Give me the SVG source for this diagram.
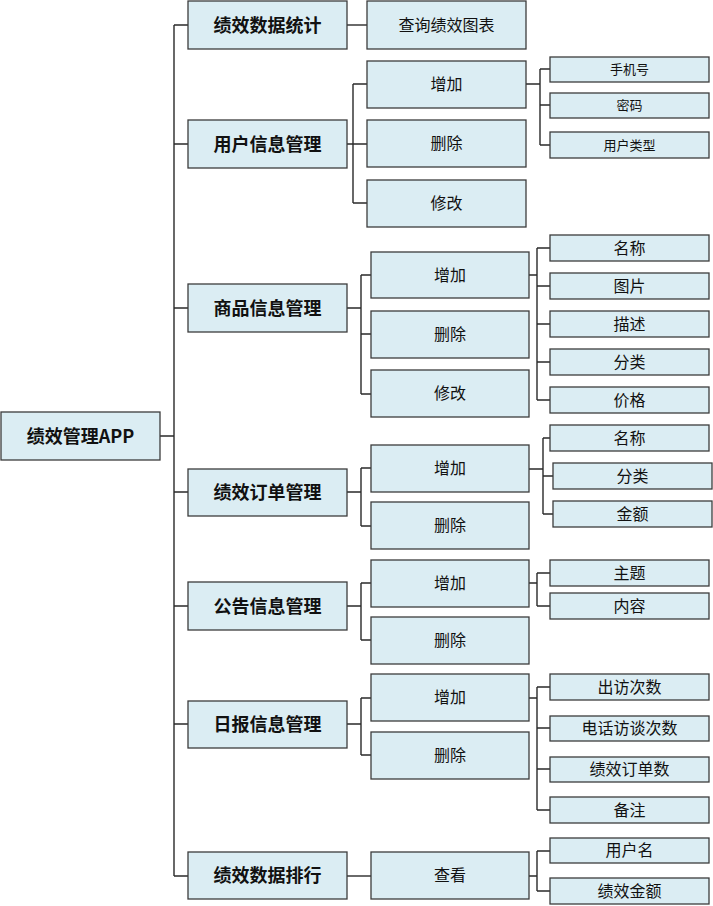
<svg xmlns="http://www.w3.org/2000/svg" width="713" height="906" viewBox="0 0 713 906">
<style>
.bx{fill:#DBEDF3;stroke:#3c3c3c;stroke-width:1.3}
.sh{fill:none;stroke:#8a8a8a;stroke-width:1.2}
.t{font-family:"Noto Sans CJK SC",sans-serif;fill:#111;text-anchor:middle;dominant-baseline:central}
.b{font-weight:bold;font-size:18px}
.m{font-size:16px}
.s{font-size:13px}
.c{fill:none;stroke:#2a2a2a;stroke-width:1.4}
</style>
<rect width="713" height="906" fill="#fff"/>
<g id="connectors" class="c">
<path d="M160 436H174M174 25V876M174 25H188M174 144H188M174 308H188M174 492H188M174 606H188M174 724H188M174 876H188"/>
<path d="M347 25H367"/>
<path d="M347 144H353M353 84V203M353 84H367M353 144H367M353 203H367"/>
<path d="M526 84H540M540 69V145M540 69H550M540 105H550M540 145H550"/>
<path d="M347 308H361M361 275V394M361 275H371M361 334H371M361 394H371"/>
<path d="M529 275H537M537 248V400M537 248H550M537 286H550M537 324H550M537 362H550M537 400H550"/>
<path d="M347 492H361M361 468V526M361 468H371M361 526H371"/>
<path d="M529 469H543M543 438V514M543 438H550M543 476H553M543 514H553"/>
<path d="M347 606H361M361 583V640M361 583H371M361 640H371"/>
<path d="M529 583H537M537 573V606M537 573H550M537 606H550"/>
<path d="M347 724H361M361 698V755M361 698H371M361 755H371"/>
<path d="M529 698H537M537 687V810M537 687H550M537 728H550M537 769H550M537 810H550"/>
<path d="M347 876H371"/>
<path d="M529 876H537M537 851V891M537 851H550M537 891H550"/>
</g>
<g id="root"><rect class="bx" x="1" y="412" width="159" height="48"/><text class="t b" x="80.5" y="435">绩效管理APP</text></g>
<g id="n1"><rect class="bx" x="188" y="1" width="159" height="48"/><text class="t b" x="267.5" y="24">绩效数据统计</text></g>
<g id="n2"><rect class="bx" x="188" y="120" width="159" height="48"/><text class="t b" x="267.5" y="143">用户信息管理</text></g>
<g id="n3"><rect class="bx" x="188" y="284" width="159" height="48"/><text class="t b" x="267.5" y="307">商品信息管理</text></g>
<g id="n4"><rect class="bx" x="188" y="469" width="159" height="47"/><text class="t b" x="267.5" y="491">绩效订单管理</text></g>
<g id="n5"><rect class="bx" x="188" y="582" width="159" height="48"/><text class="t b" x="267.5" y="605">公告信息管理</text></g>
<g id="n6"><rect class="bx" x="188" y="701" width="159" height="47"/><text class="t b" x="267.5" y="723">日报信息管理</text></g>
<g id="n7"><rect class="bx" x="188" y="852" width="159" height="47"/><text class="t b" x="267.5" y="874">绩效数据排行</text></g>
<g id="a1"><rect class="bx" x="367" y="1" width="159" height="48"/><text class="t m" x="446.5" y="24">查询绩效图表</text></g>
<g id="b1"><rect class="bx" x="367" y="61" width="159" height="47"/><text class="t m" x="446.5" y="83">增加</text></g>
<g id="b2"><rect class="bx" x="367" y="120" width="159" height="47"/><text class="t m" x="446.5" y="142">删除</text></g>
<g id="b3"><rect class="bx" x="367" y="180" width="159" height="47"/><text class="t m" x="446.5" y="202">修改</text></g>
<g id="b1a"><rect class="bx" x="550" y="57" width="159" height="25"/><text class="t s" x="629.5" y="68.5">手机号</text></g>
<g id="b1b"><rect class="bx" x="550" y="93" width="159" height="25"/><text class="t s" x="629.5" y="104.5">密码</text></g>
<g id="b1c"><rect class="bx" x="550" y="132" width="159" height="26"/><text class="t s" x="629.5" y="144">用户类型</text></g>
<g id="c1"><rect class="bx" x="371" y="252" width="158" height="46"/><text class="t m" x="450" y="274">增加</text></g>
<g id="c2"><rect class="bx" x="371" y="311" width="158" height="47"/><text class="t m" x="450" y="333">删除</text></g>
<g id="c3"><rect class="bx" x="371" y="370" width="158" height="47"/><text class="t m" x="450" y="392">修改</text></g>
<g id="c1a"><rect class="bx" x="550" y="235" width="159" height="26"/><text class="t m" x="629.5" y="246.5">名称</text></g>
<g id="c1b"><rect class="bx" x="550" y="273" width="159" height="26"/><text class="t m" x="629.5" y="284.5">图片</text></g>
<g id="c1c"><rect class="bx" x="550" y="311" width="159" height="26"/><text class="t m" x="629.5" y="322.5">描述</text></g>
<g id="c1d"><rect class="bx" x="550" y="349" width="159" height="26"/><text class="t m" x="629.5" y="360.5">分类</text></g>
<g id="c1e"><rect class="bx" x="550" y="387" width="159" height="26"/><text class="t m" x="629.5" y="398.5">价格</text></g>
<g id="d1"><rect class="bx" x="371" y="445" width="158" height="47"/><text class="t m" x="450" y="467">增加</text></g>
<g id="d2"><rect class="bx" x="371" y="502" width="158" height="47"/><text class="t m" x="450" y="524">删除</text></g>
<g id="d1a"><rect class="bx" x="550" y="425" width="159" height="26"/><text class="t m" x="629.5" y="436.5">名称</text></g>
<g id="d1b"><rect class="bx" x="553" y="463" width="159" height="26"/><text class="t m" x="632.5" y="474.5">分类</text></g>
<g id="d1c"><rect class="bx" x="553" y="501" width="159" height="26"/><text class="t m" x="632.5" y="512.5">金额</text></g>
<g id="e1"><rect class="bx" x="371" y="560" width="158" height="47"/><text class="t m" x="450" y="582">增加</text></g>
<g id="e2"><rect class="bx" x="371" y="617" width="158" height="47"/><text class="t m" x="450" y="639">删除</text></g>
<g id="e1a"><rect class="bx" x="550" y="560" width="159" height="26"/><text class="t m" x="629.5" y="571.5">主题</text></g>
<g id="e1b"><rect class="bx" x="550" y="593" width="159" height="26"/><text class="t m" x="629.5" y="604.5">内容</text></g>
<g id="f1"><rect class="bx" x="371" y="674" width="158" height="47"/><text class="t m" x="450" y="696">增加</text></g>
<g id="f2"><rect class="bx" x="371" y="732" width="158" height="47"/><text class="t m" x="450" y="754">删除</text></g>
<g id="f1a"><rect class="bx" x="550" y="674" width="159" height="26"/><text class="t m" x="629.5" y="685.5">出访次数</text></g>
<g id="f1b"><rect class="bx" x="550" y="716" width="159" height="25"/><text class="t m" x="629.5" y="727">电话访谈次数</text></g>
<g id="f1c"><rect class="bx" x="550" y="757" width="159" height="25"/><text class="t m" x="629.5" y="768">绩效订单数</text></g>
<g id="f1d"><rect class="bx" x="550" y="797" width="159" height="26"/><text class="t m" x="629.5" y="808.5">备注</text></g>
<g id="g1"><rect class="bx" x="371" y="852" width="158" height="47"/><text class="t m" x="450" y="874">查看</text></g>
<g id="g1a"><rect class="bx" x="550" y="838" width="159" height="25"/><text class="t m" x="629.5" y="849">用户名</text></g>
<g id="g1b"><rect class="bx" x="550" y="878" width="159" height="26"/><text class="t m" x="629.5" y="889.5">绩效金额</text></g>
</svg>
